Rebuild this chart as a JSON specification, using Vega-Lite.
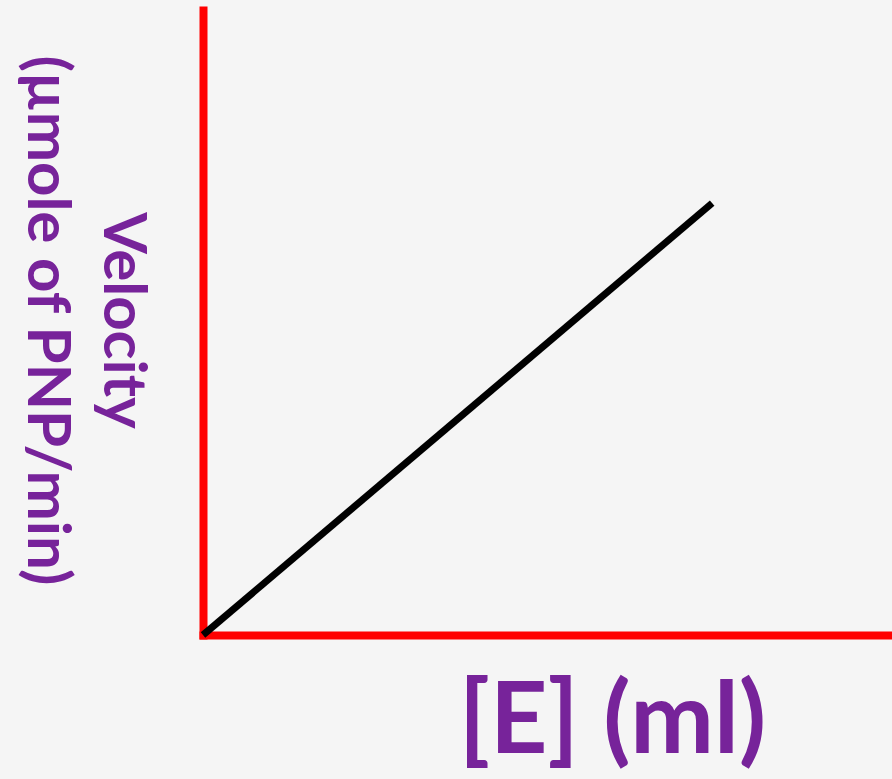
{
  "$schema": "https://vega.github.io/schema/vega-lite/v6.json",
  "width": 689,
  "height": 625,
  "autosize": "none",
  "padding": {"left": 203, "top": 10, "right": 0, "bottom": 144},
  "background": "#f5f5f5",
  "config": {"view": {"stroke": null}},
  "data": {"values": [
    {"E": 0, "V": 0},
    {"E": 7.39, "V": 6.91}
  ]},
  "mark": {"type": "line", "color": "#000000", "strokeWidth": 7, "strokeCap": "butt"},
  "encoding": {
    "x": {
      "field": "E", "type": "quantitative",
      "scale": {"domain": [0, 10], "nice": false, "zero": false},
      "axis": {
        "title": "[E] (ml)",
        "grid": false, "ticks": false, "labels": false,
        "domainColor": "#ff0000", "domainWidth": 8, "domainCap": "square",
        "titleFont": "Lato", "titleFontWeight": "bold", "titleFontSize": 100,
        "titleColor": "#77239A",
        "titleX": 409, "titleY": 117, "titleAlign": "center", "titleBaseline": "alphabetic"
      }
    },
    "y": {
      "field": "V", "type": "quantitative",
      "scale": {"domain": [0, 10], "nice": false, "zero": false},
      "axis": {
        "title": ["Velocity", "(µmole of PNP/min)"],
        "grid": false, "ticks": false, "labels": false,
        "domainColor": "#ff0000", "domainWidth": 8, "domainCap": "square",
        "titleFont": "Lato", "titleFontWeight": "bold", "titleFontSize": 60,
        "titleColor": "#77239A", "titleAngle": 90, "titleLineHeight": 76,
        "titleX": -100, "titleY": 310, "titleAlign": "center", "titleBaseline": "alphabetic"
      }
    }
  }
}
